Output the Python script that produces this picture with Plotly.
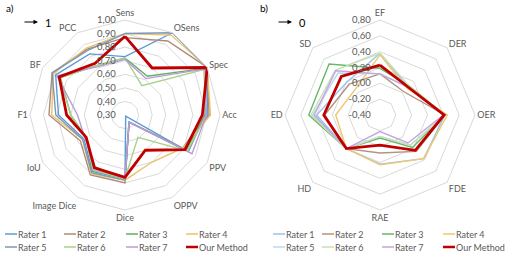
import plotly.graph_objects as go

W, H = 507, 259

# ---------------- data ----------------
cats_a = ["Sens", "OSens", "Spec", "Acc", "PPV", "OPPV", "Dice", "Image Dice", "IoU", "F1", "BF", "PCC"]
cats_b = ["EF", "DER", "OER", "FDE", "RAE", "HD", "ED", "SD"]
names = ["Rater 1", "Rater 2", "Rater 3", "Rater 4", "Rater 5", "Rater 6", "Rater 7", "Our Method"]

rater1_a = [0.73, 1.00, 1.00, 0.91, 0.79, 0.31, 0.77, 0.78, 0.65, 0.79, 0.89, 0.82]
rater2_a = [0.87, 0.93, 1.00, 0.92, 0.79, 0.36, 0.80, 0.81, 0.68, 0.86, 0.92, 0.86]
rater3_a = [0.72, 0.63, 0.99, 0.89, 0.82, 0.36, 0.77, 0.77, 0.63, 0.70, 0.85, 0.72]
rater4_a = [0.90, 0.98, 1.00, 0.93, 0.79, 0.70, 0.78, 0.80, 0.66, 0.84, 0.91, 0.87]
rater5_a = [0.90, 1.00, 1.00, 0.89, 0.84, 0.36, 0.78, 0.79, 0.66, 0.81, 0.92, 0.85]
rater6_a = [0.72, 0.55, 0.97, 0.90, 0.83, 0.49, 0.77, 0.77, 0.63, 0.70, 0.85, 0.72]
rater7_a = [0.71, 0.61, 0.98, 0.90, 0.87, 0.36, 0.77, 0.74, 0.64, 0.65, 0.88, 0.71]
ours_a = [0.88, 0.70, 1.00, 0.87, 0.81, 0.60, 0.76, 0.75, 0.63, 0.73, 0.86, 0.74]

rater1_b = [0.38, 0.10, 0.42, 0.38, 0.22, 0.20, 0.40, 0.19]
rater2_b = [0.12, 0.02, 0.42, 0.25, 0.08, 0.20, 0.30, 0.15]
rater3_b = [0.19, 0.12, 0.42, 0.18, -0.11, 0.20, 0.50, 0.51]
rater4_b = [0.36, 0.08, 0.45, 0.38, 0.23, 0.20, 0.16, 0.05]
rater5_b = [0.12, 0.10, 0.42, 0.14, -0.13, 0.20, 0.45, 0.35]
rater6_b = [0.38, 0.12, 0.42, 0.14, -0.13, 0.20, 0.47, 0.40]
rater7_b = [0.12, 0.10, 0.40, 0.10, -0.19, 0.20, 0.43, 0.39]
ours_b = [0.23, 0.10, 0.41, 0.23, -0.02, 0.20, 0.31, 0.29]

ticks_a = [0.30, 0.40, 0.50, 0.60, 0.70, 0.80, 0.90, 1.00]
ticks_b = [-0.40, -0.20, 0.00, 0.20, 0.40, 0.60, 0.80]

series_a = [rater1_a, rater2_a, rater3_a, rater4_a, rater5_a, rater6_a, rater7_a, ours_a]
series_b = [rater1_b, rater2_b, rater3_b, rater4_b, rater5_b, rater6_b, rater7_b, ours_b]

colors_a = ["#5B9BD5", "#AC8B76", "#5EAF5E", "#E8C26C", "#7F96B5", "#A9D18E", "#BA9BDA", "#C00000"]
colors_b = ["#9DC3E6", "#B09480", "#66B866", "#F0C670", "#BDD7EE", "#C5E0B4", "#C4A5E0", "#C00000"]

FONT = "Lato"
FS = 9
GRID = "#D9D9D9"
TXT = "#595959"


def fmt(v):
    return f"{v:.2f}".replace(".", ",") + "\u00a0\u00a0\u00a0"


fig = go.Figure()

for vals, nm, col in zip(series_a, names, colors_a):
    fig.add_trace(go.Scatterpolar(
        r=vals + vals[:1], theta=cats_a + cats_a[:1], mode="lines", name=nm,
        line=dict(color=col, width=2.8 if nm == "Our Method" else 1.4),
        subplot="polar", showlegend=False))

for vals, nm, col in zip(series_b, names, colors_b):
    fig.add_trace(go.Scatterpolar(
        r=vals + vals[:1], theta=cats_b + cats_b[:1], mode="lines", name=nm,
        line=dict(color=col, width=2.8 if nm == "Our Method" else 1.4),
        subplot="polar2", showlegend=False))


def polar_cfg(xdom, ticks):
    return dict(
        domain=dict(x=xdom, y=[1 - 210 / H, 1 - 20 / H]),
        gridshape="linear",
        bgcolor="rgba(0,0,0,0)",
        radialaxis=dict(
            range=[ticks[0], ticks[-1]], tickvals=ticks, ticktext=[fmt(t) for t in ticks],
            angle=90, tickangle=90, showline=False, ticks="", gridcolor=GRID, gridwidth=1,
            side="counterclockwise", tickfont=dict(family=FONT, size=FS + 0.5, color=TXT)),
        angularaxis=dict(
            rotation=90, direction="clockwise", showgrid=False, linecolor=GRID, linewidth=1,
            ticks="", tickfont=dict(family=FONT, size=FS, color=TXT)),
    )


fig.update_layout(
    width=W, height=H,
    margin=dict(l=0, r=0, t=0, b=0),
    paper_bgcolor="white", plot_bgcolor="white",
    font=dict(family=FONT, size=FS, color=TXT),
    polar=polar_cfg([30 / W, 220 / W], ticks_a),
    polar2=polar_cfg([285 / W, 475 / W], ticks_b),
    showlegend=False,
)

shapes = []
annotations = []

# panel labels and arrows
for lab, x0, num in [("a)", 4, "1"), ("b)", 258, "0")]:
    annotations.append(dict(text=lab, x=x0 / W, y=1 - 8 / H, xref="paper", yref="paper",
                            xanchor="left", yanchor="middle", showarrow=False,
                            font=dict(family=FONT, size=10, color="#000000")))
    annotations.append(dict(text="", x=(x0 + 34) / W, y=1 - 22 / H, xref="paper", yref="paper",
                            showarrow=True, ax=-15, ay=0, arrowhead=2, arrowsize=0.9,
                            arrowwidth=1, arrowcolor="#000000"))
    annotations.append(dict(text=num, x=(x0 + 39) / W, y=1 - 22 / H, xref="paper", yref="paper",
                            xanchor="left", yanchor="middle", showarrow=False,
                            font=dict(family=FONT, size=11, color="#000000")))

# manual legends (4 columns x 2 rows under each chart)
leg_x_a = [5, 64, 126, 186]
leg_x_b = [273, 322, 382, 443]
leg_rows = [234, 247]
for xs, cols in [(leg_x_a, colors_a), (leg_x_b, colors_b)]:
    for i, (nm, col) in enumerate(zip(names, cols)):
        x = xs[i % 4]
        y = leg_rows[i // 4]
        shapes.append(dict(type="line", xref="paper", yref="paper",
                           x0=x / W, x1=(x + 12) / W, y0=1 - y / H, y1=1 - y / H,
                           line=dict(color=col, width=2.5 if nm == "Our Method" else 1.5)))
        annotations.append(dict(text=nm, x=(x + 11) / W, y=1 - y / H, xref="paper", yref="paper",
                                xanchor="left", yanchor="middle", showarrow=False,
                                font=dict(family=FONT, size=FS, color=TXT)))

fig.update_layout(shapes=shapes, annotations=annotations)
fig.write_html("out.html", config={"displayModeBar": False},
               post_script="document.body.style.margin='0';document.body.style.overflow='hidden';")
